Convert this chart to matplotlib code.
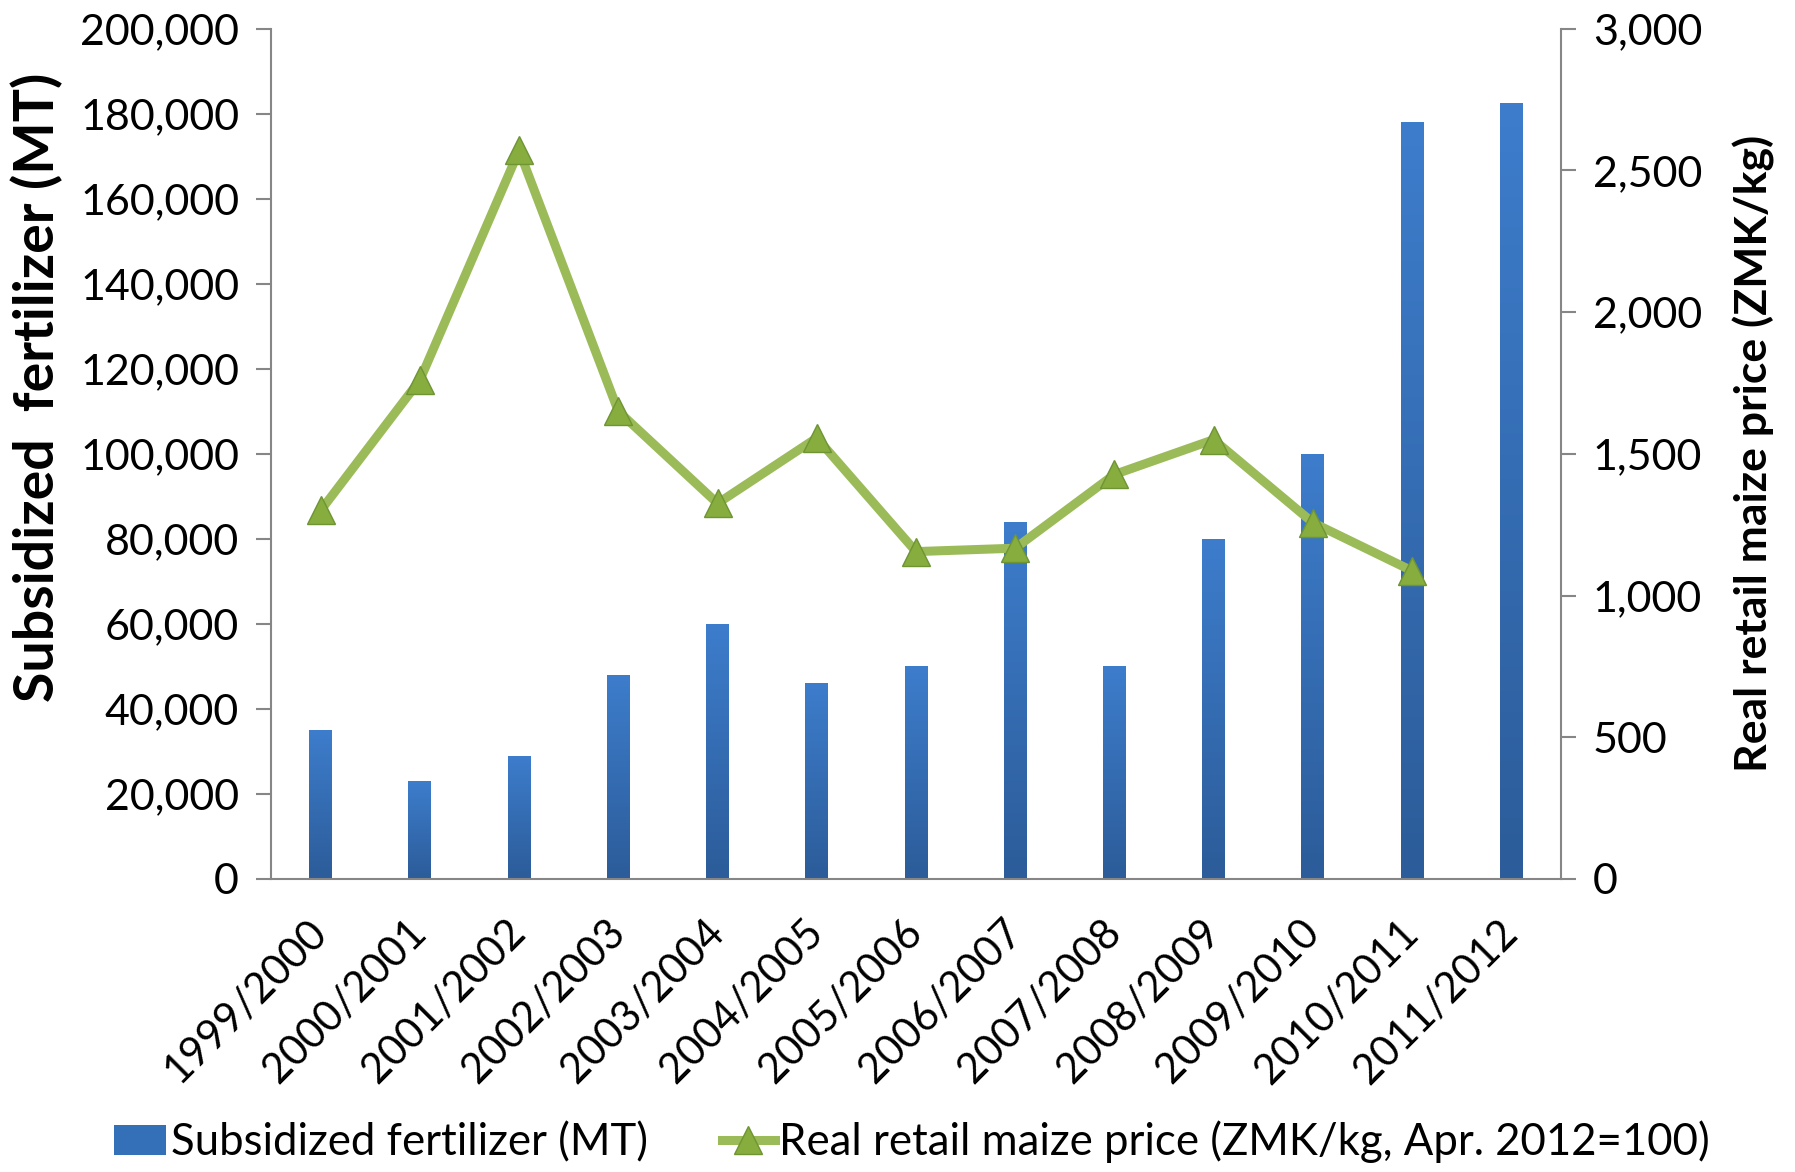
import numpy as np
import matplotlib
matplotlib.use("Agg")
import matplotlib.pyplot as plt
from matplotlib.ticker import FuncFormatter, MultipleLocator
from matplotlib.patches import Patch
from matplotlib.lines import Line2D

plt.rcParams['font.family'] = ['Lato', 'DejaVu Sans']

# Marketing seasons
seasons = ["1999/2000", "2000/2001", "2001/2002", "2002/2003", "2003/2004",
           "2004/2005", "2005/2006", "2006/2007", "2007/2008", "2008/2009",
           "2009/2010", "2010/2011", "2011/2012"]

# Subsidized fertilizer distributed (metric tonnes)
fertilizer_mt = [35000, 23000, 29000, 48000, 60000, 46000, 50000,
                 84000, 50000, 80000, 100000, 178000, 182500]

# Real retail maize price (ZMK/kg, Apr. 2012 = 100); no value for 2011/2012
maize_price = [1300, 1760, 2570, 1650, 1325, 1556, 1155,
               1167, 1427, 1550, 1257, 1087]

bar_label = "Subsidized fertilizer (MT)"
line_label = "Real retail maize price (ZMK/kg, Apr. 2012=100)"

fig = plt.figure(figsize=(17.95, 11.72), dpi=100)
ax = fig.add_axes([0.151, 0.25, 0.7186, 0.7256])
ax2 = ax.twinx()

x = np.arange(len(seasons))
axis_grey = "#868686"

# Bars with a vertical blue gradient
bars = ax.bar(x, fertilizer_mt, width=0.23, color="none", zorder=2)
grad = np.linspace(0, 1, 256).reshape(-1, 1)
cmap = matplotlib.colors.LinearSegmentedColormap.from_list(
    "bluegrad", ["#2C5C99", "#3D7DCC"])
for rect in bars:
    x0 = rect.get_x()
    w = rect.get_width()
    h = rect.get_height()
    im = ax.imshow(grad, cmap=cmap, origin="lower", aspect="auto",
                   extent=[x0, x0 + w, 0, h], zorder=2)
    im.set_clip_path(rect)

ax.set_xlim(-0.5, len(seasons) - 0.5)
ax.set_ylim(0, 200000)
ax.yaxis.set_major_locator(MultipleLocator(20000))
ax.yaxis.set_major_formatter(FuncFormatter(lambda v, p: f"{int(v):,}"))

# Price line on the secondary axis
ax2.plot(x[:len(maize_price)], maize_price, color="#9BBB59", lw=6.5,
         marker="^", markersize=20, markerfacecolor="#86AD3E",
         markeredgecolor="#6E9433", markeredgewidth=1.0,
         solid_joinstyle="miter", zorder=3)
ax2.set_ylim(0, 3000)
ax2.yaxis.set_major_locator(MultipleLocator(500))
ax2.yaxis.set_major_formatter(FuncFormatter(lambda v, p: f"{int(v):,}"))

for a in (ax, ax2):
    a.spines["top"].set_visible(False)
    for s in ("left", "right", "bottom"):
        a.spines[s].set_color(axis_grey)
        a.spines[s].set_linewidth(1.5)
    a.tick_params(axis="y", colors=axis_grey, labelcolor="black",
                  labelsize=31, length=11, width=1.5, direction="out", pad=12)
ax.spines["right"].set_visible(False)
ax2.spines["left"].set_visible(False)
ax2.spines["bottom"].set_visible(False)

ax.set_xticks(x)
ax.set_xticklabels(seasons, rotation=45, ha="right", va="center",
                   rotation_mode="anchor", fontsize=30)
ax.tick_params(axis="x", length=0, pad=34)

ax.set_ylabel("Subsidized  fertilizer (MT)", fontsize=40, fontweight="bold")
ax.yaxis.set_label_coords(-0.161, 0.578)
ax2.set_ylabel("Real retail maize price (ZMK/kg)", fontsize=32,
               fontweight="bold", rotation=90, labelpad=22)

handles = [
    Patch(facecolor="#3470B8", edgecolor="none", label=bar_label),
    Line2D([0], [0], color="#9BBB59", lw=6.5, marker="^", markersize=20,
           markerfacecolor="#86AD3E", markeredgecolor="#6E9433",
           label=line_label),
]
fig.legend(handles=handles, loc="lower center", bbox_to_anchor=(0.508, 0.0),
           ncol=2, frameon=False, fontsize=31.5, handlelength=1.2,
           handletextpad=0.1, columnspacing=1.7, borderaxespad=0.0,
           borderpad=0.2)

fig.savefig("out.png", dpi=100)
